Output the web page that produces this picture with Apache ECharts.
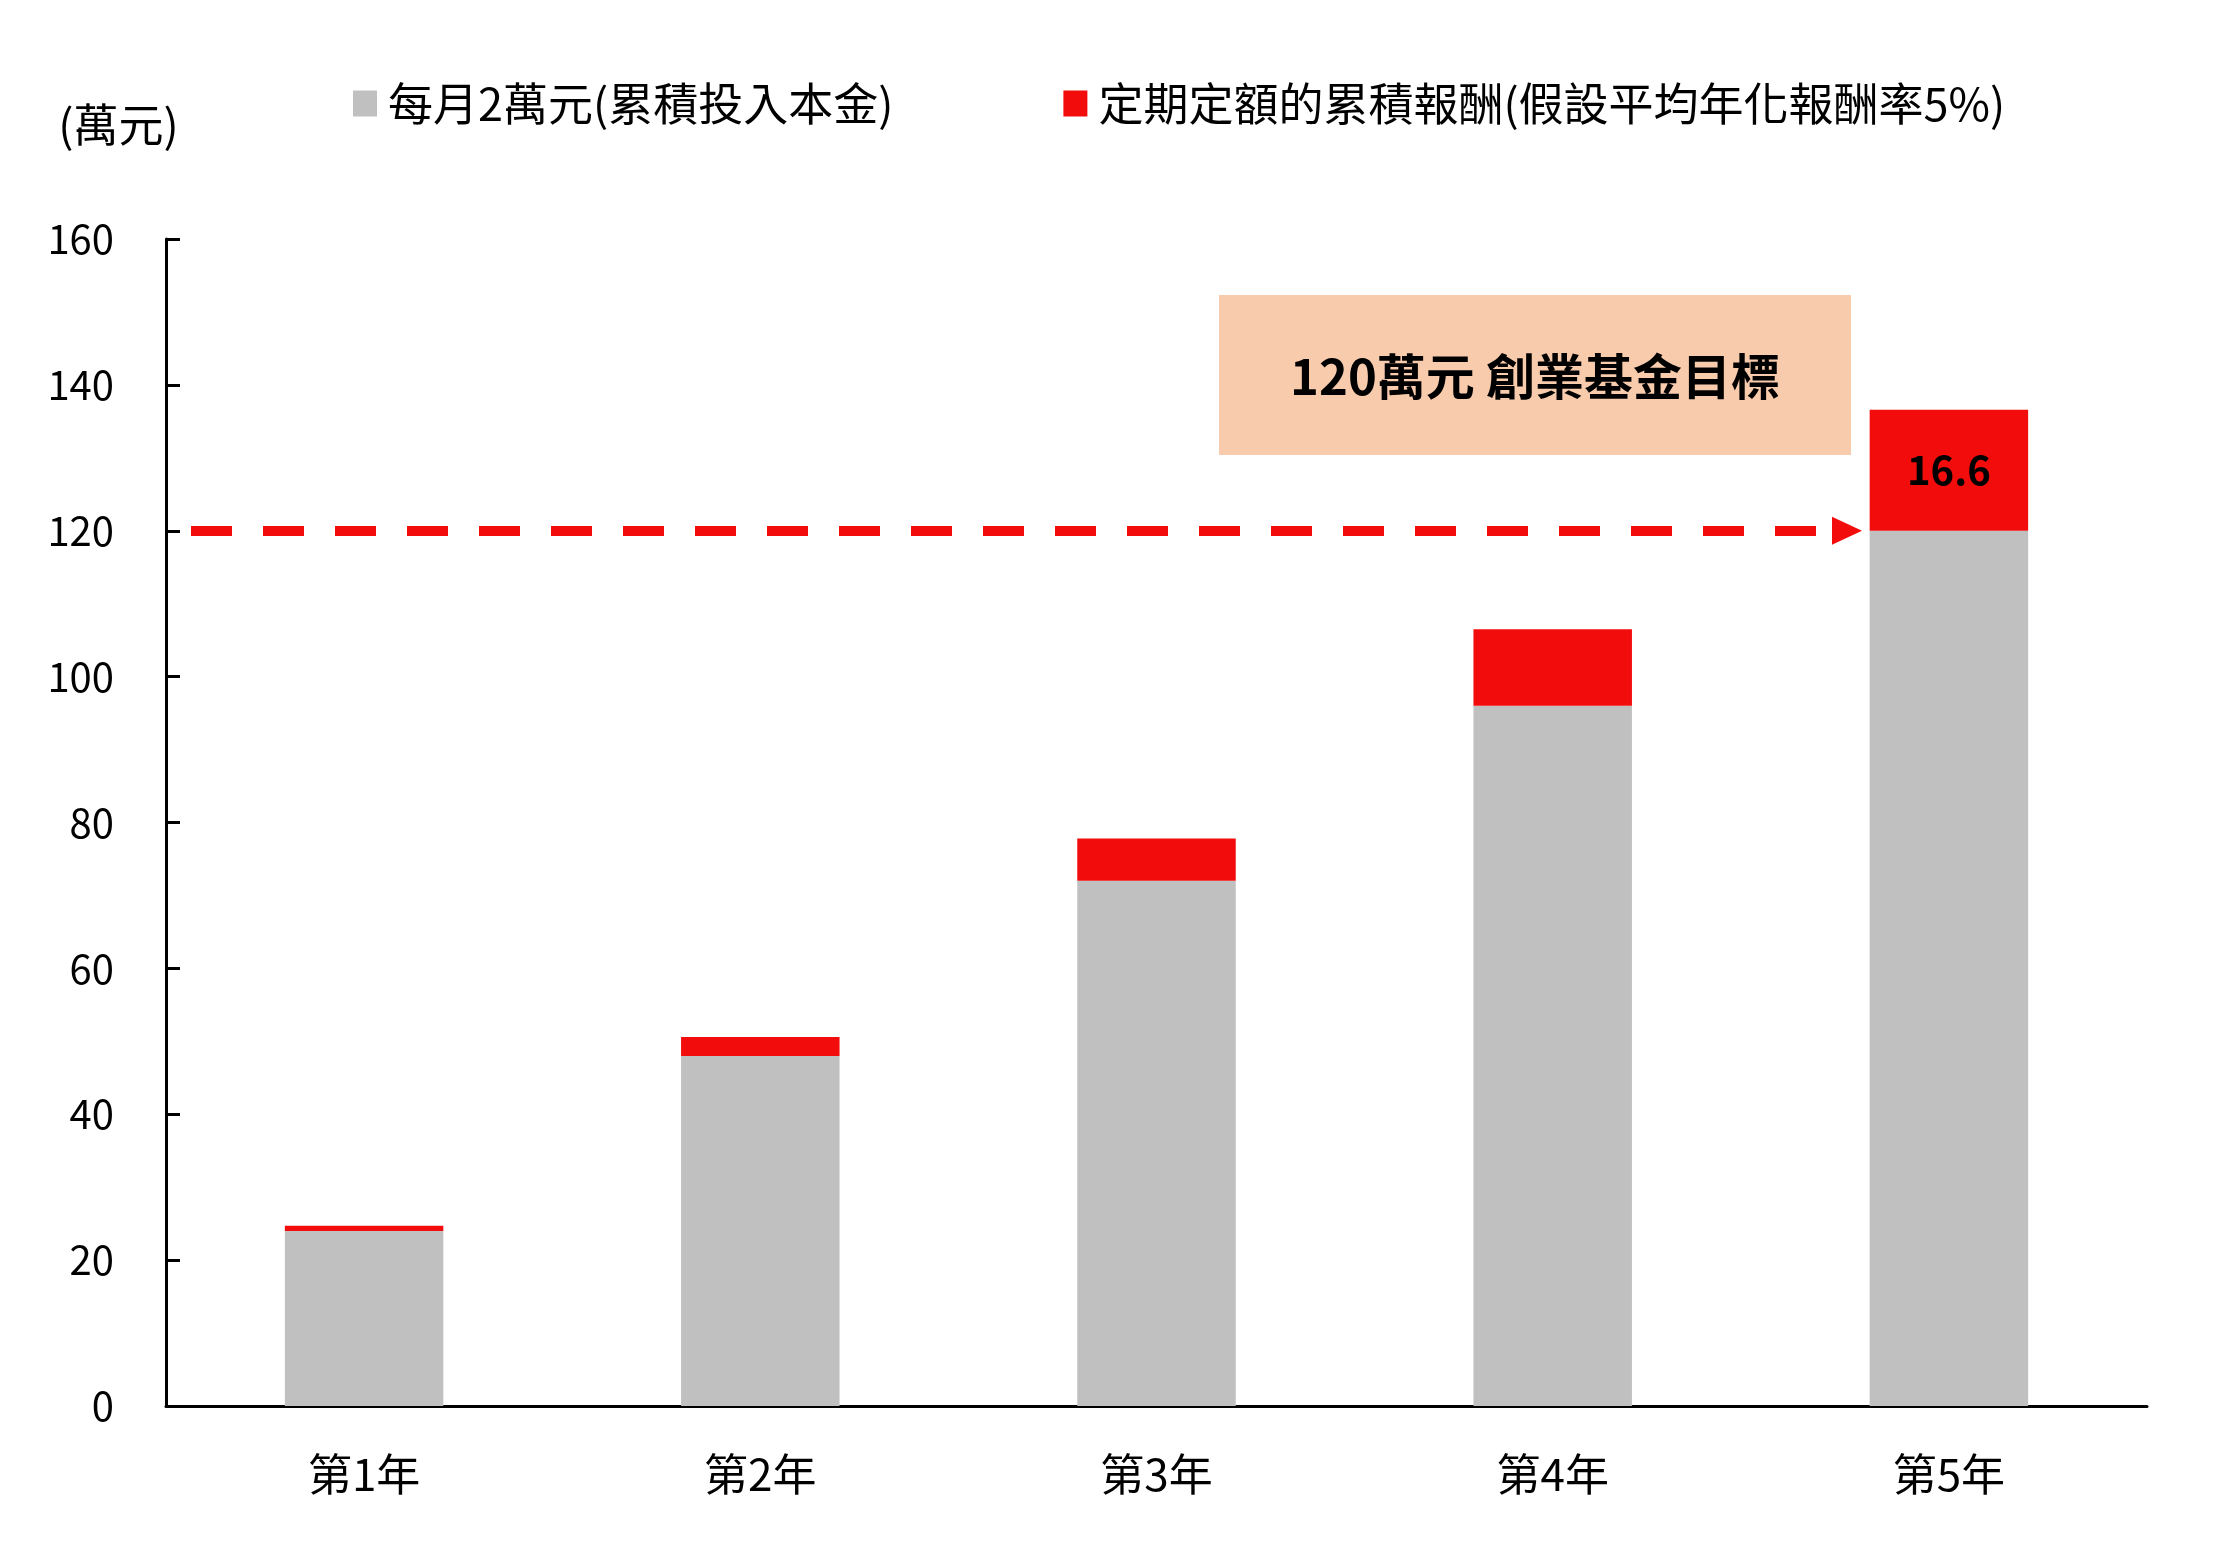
<!DOCTYPE html>
<html>
<head>
<meta charset="utf-8">
<script src="https://cdn.jsdelivr.net/npm/echarts@6/dist/echarts.min.js"></script>
<style>
  html, body { margin: 0; padding: 0; background: #fff; }
  #main { width: 2221px; height: 1562px; }
</style>
</head>
<body>
<div id="main"></div>
<script>
const years = ["第1年", "第2年", "第3年", "第4年", "第5年"];
// 累積投入本金 (萬元)
const principal = [24, 48, 72, 96, 120];
// 累積報酬 (萬元)
const returns = [0.7, 2.6, 5.8, 10.5, 16.6];
const target = 120;
const yTicks = { min: 0, max: 160, interval: 20 };

const font = '"Noto Sans CJK TC", "Noto Sans", sans-serif';
const gray = "#C0C0C0";
const red = "#F20C0C";

const chart = echarts.init(document.getElementById("main"));

const option = {
  animation: false,
  textStyle: { fontFamily: font, color: "#000" },
  grid: { left: 166, right: 74, top: 239, bottom: 156 },
  legend: {
    left: 348,
    top: 76,
    icon: "rect",
    itemWidth: 24,
    itemHeight: 26,
    itemGap: 170,
    textStyle: { fontSize: 45, color: "#000", fontFamily: font, padding: [0, 0, 0, 6] },
    data: ["每月2萬元(累積投入本金)", "定期定額的累積報酬(假設平均年化報酬率5%)"]
  },
  xAxis: {
    type: "category",
    data: years,
    axisLine: { lineStyle: { color: "#000", width: 3 } },
    axisTick: { show: false },
    axisLabel: { fontSize: 44, color: "#000", margin: 46 }
  },
  yAxis: {
    type: "value",
    min: yTicks.min,
    max: yTicks.max,
    interval: yTicks.interval,
    name: "(萬元)",
    nameLocation: "end",
    nameGap: 114,
    nameTextStyle: {
      fontSize: 45, color: "#000", align: "center", verticalAlign: "middle",
      padding: [0, 95, 0, 0]
    },
    axisLine: { show: true, lineStyle: { color: "#000", width: 3 } },
    axisTick: { show: true, inside: true, length: 14, lineStyle: { color: "#000", width: 3 } },
    axisLabel: { fontSize: 40, color: "#000", margin: 52 },
    splitLine: { show: false }
  },
  series: [
    {
      name: "每月2萬元(累積投入本金)",
      type: "bar",
      stack: "total",
      barWidth: "40%",
      itemStyle: { color: gray },
      emphasis: { disabled: true },
      data: principal
    },
    {
      name: "定期定額的累積報酬(假設平均年化報酬率5%)",
      type: "bar",
      stack: "total",
      barWidth: "40%",
      itemStyle: { color: red },
      emphasis: { disabled: true },
      data: returns.map(function (v, i) {
        return i === returns.length - 1
          ? {
              value: v,
              label: {
                show: true, position: "inside", fontSize: 40, fontWeight: "bold",
                color: "#000", fontFamily: font
              }
            }
          : v;
      }),
      markLine: {
        silent: true,
        symbol: ["none", "triangle"],
        symbolSize: [28, 30],
        label: { show: false },
        emphasis: { disabled: true },
        lineStyle: { color: red, width: 10, type: [41, 31], cap: "butt" },
        data: [[
          { coord: [0, target], x: 191 },
          { coord: [4, target], x: 1847 }
        ]]
      }
    }
  ],
  graphic: [
    {
      type: "rect",
      shape: { x: 1219, y: 295, width: 632, height: 160 },
      style: { fill: "#F8CBAD" },
      silent: true
    },
    {
      type: "text",
      x: 1535,
      y: 376,
      style: {
        text: "120萬元 創業基金目標",
        font: "bold 49px " + font,
        fill: "#000",
        align: "center",
        verticalAlign: "middle"
      },
      silent: true
    }
  ]
};

chart.setOption(option);
</script>
</body>
</html>
